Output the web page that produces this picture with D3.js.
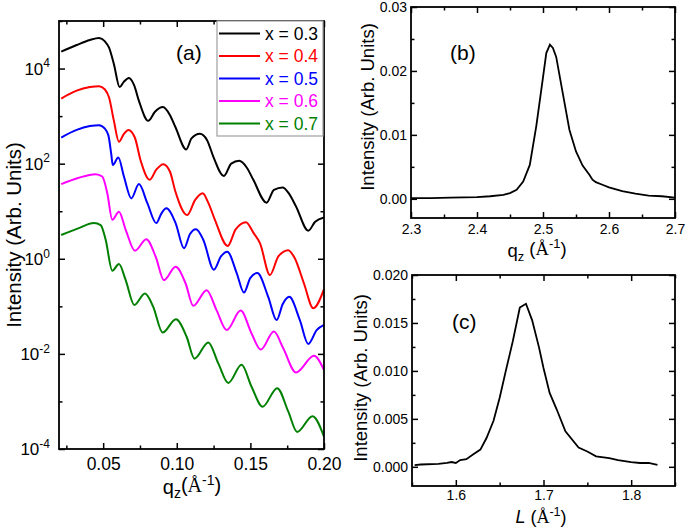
<!DOCTYPE html>
<html>
<head>
<meta charset="utf-8">
<script src="https://cdn.jsdelivr.net/npm/d3@7"></script>
<style>
  html, body { margin: 0; padding: 0; background: #fff; }
  svg { display: block; font-family: "Liberation Sans", Arial, sans-serif; }
</style>
</head>
<body>
<svg id="chart" width="685" height="529"></svg>
<script>
// ---------- Panel (a) data: q_z (1/Å) and log10(intensity) ----------
const seriesNames = ["x = 0.3", "x = 0.4", "x = 0.5", "x = 0.6", "x = 0.7"];
const seriesColors = ["#000000", "#ff0000", "#0000ff", "#ff00ff", "#008000"];

const q03 = [0.0215, 0.032, 0.041, 0.0472, 0.0512, 0.054, 0.0573, 0.0612, 0.064, 0.0675, 0.071, 0.0743, 0.0806, 0.0852, 0.0906, 0.0954, 0.0992, 0.1064, 0.110, 0.1157, 0.1205, 0.1248, 0.132, 0.137, 0.1424, 0.1475, 0.152, 0.161, 0.166, 0.1719, 0.176, 0.181, 0.1893, 0.194, 0.200];
const e03 = [4.355, 4.495, 4.60, 4.64, 4.57, 4.44, 4.09, 3.61, 3.72, 3.80, 3.65, 3.32, 2.90, 3.09, 3.19, 3.02, 2.76, 2.30, 2.53, 2.63, 2.50, 2.15, 1.74, 2.00, 2.06, 1.92, 1.66, 1.18, 1.45, 1.50, 1.38, 1.10, 0.59, 0.78, 0.87];

const q04 = [0.0215, 0.032, 0.041, 0.0472, 0.0512, 0.054, 0.0573, 0.0607, 0.064, 0.0671, 0.0715, 0.0755, 0.0816, 0.0862, 0.0908, 0.0954, 0.099, 0.1071, 0.1125, 0.1176, 0.1215, 0.1259, 0.1346, 0.140, 0.147, 0.152, 0.1565, 0.1633, 0.169, 0.1757, 0.180, 0.1864, 0.1927, 0.200];
const e04 = [3.37, 3.535, 3.61, 3.63, 3.56, 3.39, 2.90, 2.46, 2.62, 2.71, 2.55, 2.06, 1.66, 1.88, 1.99, 1.83, 1.42, 0.92, 1.24, 1.38, 1.17, 0.82, 0.27, 0.62, 0.77, 0.55, 0.33, -0.34, 0.05, 0.18, 0.02, -0.52, -1.04, -0.64];

const q05 = [0.0215, 0.032, 0.041, 0.0472, 0.051, 0.0535, 0.0555, 0.0565, 0.0603, 0.0641, 0.0691, 0.0743, 0.080, 0.0861, 0.0895, 0.0929, 0.0992, 0.1049, 0.109, 0.113, 0.118, 0.1252, 0.130, 0.1343, 0.1407, 0.1456, 0.150, 0.1547, 0.1621, 0.1678, 0.172, 0.1764, 0.1836, 0.1893, 0.195, 0.200];
const e05 = [2.55, 2.71, 2.79, 2.81, 2.74, 2.60, 2.20, 1.97, 2.13, 1.73, 1.27, 1.57, 1.17, 0.75, 0.95, 1.06, 0.75, 0.22, 0.52, 0.62, 0.40, -0.23, 0.05, 0.15, -0.30, -0.71, -0.40, -0.30, -0.80, -1.29, -0.95, -0.80, -1.29, -1.79, -1.50, -1.39];

const q06 = [0.0215, 0.033, 0.0449, 0.0494, 0.0528, 0.0562, 0.0607, 0.0653, 0.0716, 0.0793, 0.0857, 0.0913, 0.0992, 0.106, 0.1112, 0.1203, 0.127, 0.1339, 0.1434, 0.1508, 0.157, 0.166, 0.1723, 0.181, 0.1932, 0.200];
const e06 = [1.57, 1.70, 1.78, 1.73, 1.38, 0.82, 0.99, 0.61, 0.17, 0.41, 0.04, -0.45, -0.17, -0.52, -0.99, -0.66, -1.08, -1.50, -1.09, -1.57, -1.91, -1.53, -1.88, -2.39, -2.04, -2.34];

const q07 = [0.0215, 0.033, 0.0438, 0.0483, 0.0517, 0.0562, 0.0607, 0.0653, 0.0711, 0.0784, 0.084, 0.0904, 0.0994, 0.1067, 0.112, 0.1214, 0.1282, 0.135, 0.144, 0.1508, 0.1583, 0.1682, 0.1757, 0.1818, 0.1922, 0.200];
const e07 = [0.50, 0.64, 0.75, 0.71, 0.40, -0.25, -0.11, -0.45, -0.97, -0.73, -1.01, -1.55, -1.27, -1.64, -2.10, -1.76, -2.20, -2.61, -2.23, -2.69, -3.11, -2.72, -3.21, -3.64, -3.31, -3.74];

const qSeries = [q03, q04, q05, q06, q07];
const eSeries = [e03, e04, e05, e06, e07];

const aXTicks = [0.05, 0.10, 0.15, 0.20];
const aXMinor = [0.025, 0.075, 0.125, 0.175];
const aYTicks = [1e-4, 1e-2, 1e0, 1e2, 1e4];
const aYMinor = [1e-3, 1e-1, 1e1, 1e3, 1e5];

// ---------- Panel (b) data ----------
const qb = [2.30, 2.33, 2.36, 2.40, 2.42, 2.44, 2.45, 2.46, 2.47, 2.48, 2.49, 2.50, 2.505, 2.5105, 2.515, 2.52, 2.53, 2.54, 2.55, 2.56, 2.57, 2.575, 2.58, 2.59, 2.60, 2.62, 2.64, 2.66, 2.68, 2.70];
const ib = [0.0001, 0.0001, 0.0002, 0.00025, 0.0004, 0.0006, 0.0009, 0.0014, 0.0027, 0.0053, 0.0115, 0.0190, 0.0228, 0.0241, 0.0236, 0.0222, 0.0165, 0.0108, 0.0074, 0.0052, 0.0038, 0.0030, 0.0026, 0.0022, 0.0018, 0.0012, 0.0008, 0.0005, 0.0004, 0.0002];
const bXTicks = [2.3, 2.4, 2.5, 2.6, 2.7];
const bXMinor = [2.35, 2.45, 2.55, 2.65];
const bYTicks = [0.00, 0.01, 0.02, 0.03];
const bYMinor = [0.005, 0.015, 0.025];

// ---------- Panel (c) data ----------
const Lc = [1.553, 1.56, 1.58, 1.59, 1.595, 1.60, 1.605, 1.612, 1.62, 1.628, 1.635, 1.643, 1.65, 1.657, 1.665, 1.673, 1.68, 1.687, 1.695, 1.70, 1.707, 1.715, 1.725, 1.74, 1.75, 1.76, 1.775, 1.785, 1.80, 1.81, 1.82, 1.83];
const ic = [0.00017, 0.00024, 0.0003, 0.0004, 0.0005, 0.0004, 0.0007, 0.0008, 0.0013, 0.0018, 0.0030, 0.0048, 0.0072, 0.0100, 0.0131, 0.0166, 0.0170, 0.0153, 0.0124, 0.0103, 0.0077, 0.0060, 0.0037, 0.0020, 0.0016, 0.0011, 0.0009, 0.0007, 0.0005, 0.0004, 0.0004, 0.0002];
const cXTicks = [1.6, 1.7, 1.8];
const cXMinor = [1.55, 1.65, 1.75, 1.85];
const cYTicks = [0.000, 0.005, 0.010, 0.015, 0.020];
const cYMinor = [0.0025, 0.0075, 0.0125, 0.0175];

// ---------- drawing ----------
const svg = d3.select("#chart");
const MAJ = 6, MIN = 3.5;

function frameAxes(g, x, y, w, h, opt) {
  const fs = opt.fontSize;
  g.append("g").attr("transform", `translate(0,${h})`)
    .call(d3.axisBottom(x).tickValues(opt.xTicks).tickSize(-MAJ).tickPadding(opt.xPad).tickFormat(opt.xFmt))
    .call(s => s.select(".domain").remove())
    .call(s => s.selectAll("text").attr("font-size", fs).attr("fill", "#000").attr("font-family", "Liberation Sans, Arial, sans-serif"));
  g.append("g").attr("transform", `translate(0,${h})`)
    .call(d3.axisBottom(x).tickValues(opt.xMinor).tickSize(-MIN).tickFormat(""))
    .call(s => s.select(".domain").remove());
  g.append("g").call(d3.axisTop(x).tickValues(opt.xTicks).tickSize(-MAJ).tickFormat(""))
    .call(s => s.select(".domain").remove());
  g.append("g").call(d3.axisTop(x).tickValues(opt.xMinor).tickSize(-MIN).tickFormat(""))
    .call(s => s.select(".domain").remove());
  const left = g.append("g")
    .call(d3.axisLeft(y).tickValues(opt.yTicks).tickSize(-MAJ).tickPadding(opt.yPad).tickFormat(opt.yFmt))
    .call(s => s.select(".domain").remove())
    .call(s => s.selectAll("text").attr("font-size", fs).attr("fill", "#000").attr("font-family", "Liberation Sans, Arial, sans-serif"));
  if (opt.yPost) left.selectAll("text").each(opt.yPost);
  g.append("g").call(d3.axisLeft(y).tickValues(opt.yMinor).tickSize(-MIN).tickFormat(""))
    .call(s => s.select(".domain").remove());
  g.append("g").attr("transform", `translate(${w},0)`)
    .call(d3.axisRight(y).tickValues(opt.yTicks).tickSize(-MAJ).tickFormat(""))
    .call(s => s.select(".domain").remove());
  g.append("g").attr("transform", `translate(${w},0)`)
    .call(d3.axisRight(y).tickValues(opt.yMinor).tickSize(-MIN).tickFormat(""))
    .call(s => s.select(".domain").remove());
  g.selectAll(".tick line").attr("stroke", "#000").attr("stroke-width", 1.5);
  g.append("rect").attr("x", 0).attr("y", 0).attr("width", w).attr("height", h)
    .attr("fill", "none").attr("stroke", "#000").attr("stroke-width", 1.8);
}

function xLabel(g, cx, by, fs, italicL, space) {
  const t = g.append("text").attr("x", cx).attr("y", by).attr("text-anchor", "middle")
    .attr("font-size", fs).attr("fill", "#000");
  if (italicL) {
    t.append("tspan").attr("font-style", "italic").text("L");
  } else {
    t.append("tspan").text("q");
    t.append("tspan").attr("font-size", fs * 0.7).attr("dy", "0.3em").text("z");
  }
  t.append("tspan").attr("dy", italicL ? 0 : "-0.3em").text(space ? " (" : "(");
  t.append("tspan").attr("font-family", "Liberation Serif, Times New Roman, serif").text("Å");
  t.append("tspan").attr("font-size", fs * 0.7).attr("dy", "-0.55em").text("-1");
  t.append("tspan").attr("dy", "0.385em").text(")");
}

function yLabel(g, cx, cy, fs) {
  g.append("text").attr("transform", `translate(${cx},${cy}) rotate(-90)`)
    .attr("text-anchor", "middle").attr("dy", "0.35em")
    .attr("font-size", fs).attr("fill", "#000").text("Intensity (Arb. Units)");
}

// ===== Panel (a) =====
{
  const L = 59, T = 21, W = 265, H = 428;
  const g = svg.append("g").attr("transform", `translate(${L},${T})`);
  const x = d3.scaleLinear().domain([0.02, 0.20]).range([0, W]);
  const y = d3.scaleLog().domain([1e-4, 1e5]).range([H, 0]);
  const line = d3.line().curve(d3.curveMonotoneX).x(d => x(d[0])).y(d => y(d[1]));
  g.append("defs").append("clipPath").attr("id", "clipA").append("rect")
    .attr("width", W).attr("height", H);
  const plot = g.append("g").attr("clip-path", "url(#clipA)");
  qSeries.forEach((qs, i) => {
    const pts = qs.map((q, j) => [q, Math.pow(10, eSeries[i][j])]);
    plot.append("path").datum(pts).attr("d", line)
      .attr("fill", "none").attr("stroke", seriesColors[i]).attr("stroke-width", 2);
  });
  frameAxes(g, x, y, W, H, {
    fontSize: 17.5, xTicks: aXTicks, xMinor: aXMinor, yTicks: aYTicks, yMinor: aYMinor,
    xPad: 9, yPad: 9, xFmt: d3.format(".2f"), yFmt: d => String(Math.round(Math.log10(d))),
    yPost: function (d) {
      const e = Math.round(Math.log10(d));
      const t = d3.select(this); t.text(null).attr("font-size", 17);
      t.append("tspan").text("10");
      t.append("tspan").attr("font-size", 12).attr("dy", "-0.6em").text(String(e));
    }
  });
  const lg = g.append("g");
  lg.append("rect").attr("x", 217 - L).attr("y", 0).attr("width", 106).attr("height", 115)
    .attr("fill", "#fff").attr("stroke", "#a0a0a0").attr("stroke-width", 1.2);
  seriesNames.forEach((n, i) => {
    const cy = 33.5 - T + i * 22.5;
    lg.append("line").attr("x1", 219 - L).attr("x2", 260 - L).attr("y1", cy).attr("y2", cy)
      .attr("stroke", seriesColors[i]).attr("stroke-width", 2);
    lg.append("text").attr("x", 265 - L).attr("y", cy + 6).attr("font-size", 17.5)
      .attr("fill", seriesColors[i]).text(n);
  });
  g.append("text").attr("x", 176 - L).attr("y", 60 - T).attr("font-size", 21).attr("fill", "#000").text("(a)");
  yLabel(svg, 14, 235, 20.5);
  xLabel(svg, 192, 494, 20, false, false);
}

// ===== Panel (b) =====
{
  const L = 411, T = 7, W = 264, H = 211;
  const g = svg.append("g").attr("transform", `translate(${L},${T})`);
  const x = d3.scaleLinear().domain([2.3, 2.7]).range([0, W]);
  const y = d3.scaleLinear().domain([-0.003, 0.03]).range([H, 0]);
  const line = d3.line().x(d => x(d)).y((d, i) => y(ib[i]));
  g.append("path").datum(qb).attr("d", line)
    .attr("fill", "none").attr("stroke", "#000").attr("stroke-width", 1.8);
  frameAxes(g, x, y, W, H, {
    fontSize: 14, xTicks: bXTicks, xMinor: bXMinor, yTicks: bYTicks, yMinor: bYMinor,
    xPad: 6, yPad: 4, xFmt: d3.format(".1f"), yFmt: d3.format(".2f")
  });
  g.append("text").attr("x", 450 - L).attr("y", 60 - T).attr("font-size", 21).attr("fill", "#000").text("(b)");
  yLabel(svg, 368, 107, 18.5);
  xLabel(svg, 537, 257, 18.5, false, true);
}

// ===== Panel (c) =====
{
  const L = 412, T = 275, W = 263, H = 211;
  const g = svg.append("g").attr("transform", `translate(${L},${T})`);
  const x = d3.scaleLinear().domain([1.55, 1.85]).range([0, W]);
  const y = d3.scaleLinear().domain([-0.002, 0.020]).range([H, 0]);
  const line = d3.line().x(d => x(d)).y((d, i) => y(ic[i]));
  g.append("path").datum(Lc).attr("d", line)
    .attr("fill", "none").attr("stroke", "#000").attr("stroke-width", 1.8);
  frameAxes(g, x, y, W, H, {
    fontSize: 14, xTicks: cXTicks, xMinor: cXMinor, yTicks: cYTicks, yMinor: cYMinor,
    xPad: 4, yPad: 4, xFmt: d3.format(".1f"), yFmt: d3.format(".3f")
  });
  g.append("text").attr("x", 452 - L).attr("y", 329 - T).attr("font-size", 21).attr("fill", "#000").text("(c)");
  yLabel(svg, 361, 378, 18.5);
  xLabel(svg, 541, 523, 18, true, true);
}
</script>
</body>
</html>
